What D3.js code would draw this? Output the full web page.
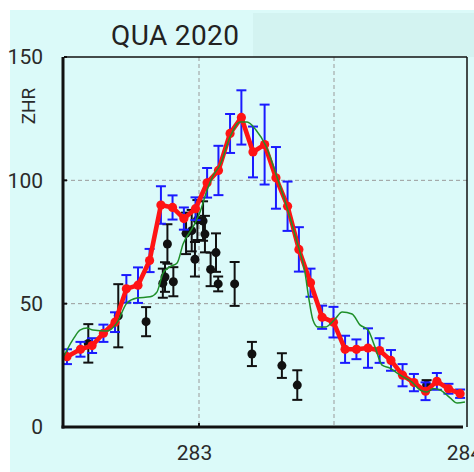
<!DOCTYPE html>
<html>
<head>
<meta charset="utf-8">
<script src="https://cdn.jsdelivr.net/npm/d3@7"></script>
<style>
  html, body { margin: 0; padding: 0; background: #ffffff; }
  svg { display: block; }
  text { font-family: Roboto, "Noto Sans", Arial, sans-serif; }
</style>
</head>
<body>
<script>
// Quadrantids 2020: ZHR against solar longitude

// Main ZHR profile (red, with blue error bars)
const mainLon = [282.511, 282.561, 282.604, 282.646, 282.689, 282.731, 282.774, 282.817, 282.859, 282.902,
                 282.944, 282.987, 283.030, 283.072, 283.115, 283.157, 283.200, 283.243, 283.285, 283.328,
                 283.370, 283.413, 283.456, 283.498, 283.541, 283.583, 283.626, 283.669, 283.711, 283.754,
                 283.796, 283.839, 283.881, 283.924, 283.967];
const mainZhr = [28.5, 31.5, 33, 38, 42.5, 56, 57.5, 67.5, 90, 89,
                 84.5, 88.5, 99, 104, 119, 125.5, 111.5, 114.5, 101, 89.5,
                 72, 58.5, 44.5, 42.5, 31.5, 31.5, 32, 31, 27, 21,
                 18, 14.5, 18.5, 15.5, 13.5];
const mainErr = [3, 3, 3, 3.5, 4, 5.6, 7.2, 4.7, 7.6, 4.9,
                 4.5, 4.6, 6, 10, 7.9, 11, 10.3, 16.2, 12.5, 10,
                 9, 5.7, 4.7, 6.2, 5.5, 4, 8, 5, 4.2, 4.5,
                 3.5, 3.6, 3.4, 2, 1.7];

// Second data set (black points with error bars)
const otherLon = [282.590, 282.701, 282.804, 282.866, 282.874, 282.883, 282.905, 282.952, 282.973, 282.985,
                  282.994, 283.015, 283.022, 283.043, 283.063, 283.071, 283.132, 283.196, 283.307, 283.364,
                  283.843];
const otherZhr = [33.9, 45.1, 42.7, 58.3, 60.8, 74.2, 58.9, 78.5, 79.6, 68,
                  83.9, 83.5, 78.2, 63.9, 70.7, 58, 58, 29.6, 24.9, 17,
                  17];
const otherErr = [7.8, 12.8, 5.9, 5.9, 6, 8, 5.9, 8.4, 8.4, 7,
                  8.1, 8, 7.4, 6.8, 7.8, 3, 8.9, 4.9, 5, 6,
                  2];

// Model curve (green)
const modelLon = [282.500, 282.511, 282.537, 282.559, 282.585, 282.607, 282.659, 282.696, 282.733, 282.770,
                  282.819, 282.844, 282.867, 282.893, 282.919, 282.941, 282.978, 283.004, 283.030, 283.052,
                  283.078, 283.115, 283.152, 283.178, 283.211, 283.248, 283.285, 283.322, 283.363, 283.393,
                  283.406, 283.422, 283.441, 283.467, 283.504, 283.530, 283.567, 283.596, 283.626, 283.652,
                  283.678, 283.707, 283.744, 283.789, 283.819, 283.844, 283.867, 283.893, 283.930, 283.956,
                  283.985];
const modelZhr = [28.8, 31.2, 36.1, 39.3, 40.1, 39.3, 38.9, 42.2, 50.3, 52.3,
                  52.8, 54.7, 62.4, 65, 66.5, 74.2, 81.1, 87.2, 96.1, 101.8,
                  106.2, 117.6, 123.6, 123.6, 120.4, 113.9, 102.6, 90.4, 75, 62.4,
                  52.7, 43.4, 40.5, 40.5, 43.8, 46.6, 45.8, 41.4, 39.3, 32.4,
                  25.1, 23.9, 21.1, 18.2, 15, 14.2, 15.6, 15, 11.8, 9.7,
                  10.1];

const yTicks = [0, 50, 100, 150];
const xTicks = [283, 284];
const yGrid = [50, 100];
const xGrid = [283, 283.5];
const titleText = "QUA 2020";
const yLabel = "ZHR";

const W = 474, H = 472;
const plotL = 64, plotR = 469, plotT = 57, plotB = 427, frameRight = 467;

const svg = d3.select("body").append("svg").attr("width", W).attr("height", H);

// Backgrounds
svg.append("rect").attr("x", 10).attr("y", 10).attr("width", W - 10).attr("height", H - 10).attr("fill", "#dbfaf9");
svg.append("rect").attr("x", 253).attr("y", 13).attr("width", W - 253).attr("height", 44).attr("fill", "#d3f3f1");

const x = d3.scaleLinear().domain([282.5, 284]).range([plotL, plotR]);
const y = d3.scaleLinear().domain([0, 150]).range([plotB, plotT]);

// Title
svg.append("text").attr("x", 111).attr("y", 45).attr("font-size", 28).attr("fill", "#222")
  .attr("textLength", 128).text(titleText);

// Grid
const grid = svg.append("g").attr("stroke", "#9a9a9a").attr("stroke-width", 1).attr("stroke-dasharray", "4,3");
grid.selectAll(".gy").data(yGrid).join("line")
  .attr("x1", plotL).attr("x2", frameRight).attr("y1", d => y(d)).attr("y2", d => y(d));
grid.selectAll(".gx").data(xGrid).join("line")
  .attr("x1", d => x(d)).attr("x2", d => x(d)).attr("y1", plotT).attr("y2", plotB);

// Frame: thin top/right, thick left/bottom
svg.append("line").attr("x1", plotL).attr("x2", frameRight).attr("y1", plotT).attr("y2", plotT).attr("stroke", "#111").attr("stroke-width", 1.5);
svg.append("line").attr("x1", frameRight).attr("x2", frameRight).attr("y1", plotT).attr("y2", plotB).attr("stroke", "#111").attr("stroke-width", 1.5);

// Black data set
const other = otherLon.map((d, i) => ({ lon: d, zhr: otherZhr[i], err: otherErr[i] }));
const gOther = svg.append("g").attr("stroke", "#111").attr("stroke-width", 2);
const cap = 5;
other.forEach(d => {
  const cx = x(d.lon), y1 = y(d.zhr - d.err), y2 = y(d.zhr + d.err);
  gOther.append("line").attr("x1", cx).attr("x2", cx).attr("y1", y1).attr("y2", y2);
  gOther.append("line").attr("x1", cx - cap).attr("x2", cx + cap).attr("y1", y1).attr("y2", y1);
  gOther.append("line").attr("x1", cx - cap).attr("x2", cx + cap).attr("y1", y2).attr("y2", y2);
});
svg.append("g").selectAll("circle").data(other).join("circle")
  .attr("cx", d => x(d.lon)).attr("cy", d => y(d.zhr)).attr("r", 4.5).attr("fill", "#111");

// Blue error bars of the main profile
const main = mainLon.map((d, i) => ({ lon: d, zhr: mainZhr[i], err: mainErr[i] }));
const gBlue = svg.append("g").attr("stroke", "#1a1aff").attr("stroke-width", 2);
main.forEach(d => {
  const cx = x(d.lon), y1 = y(d.zhr - d.err), y2 = y(d.zhr + d.err);
  gBlue.append("line").attr("x1", cx).attr("x2", cx).attr("y1", y1).attr("y2", y2);
  gBlue.append("line").attr("x1", cx - cap).attr("x2", cx + cap).attr("y1", y1).attr("y2", y1);
  gBlue.append("line").attr("x1", cx - cap).attr("x2", cx + cap).attr("y1", y2).attr("y2", y2);
});

// Red line and points
const line = d3.line().x(d => x(d.lon)).y(d => y(d.zhr));
svg.append("path").datum(main).attr("d", line).attr("fill", "none")
  .attr("stroke", "#ff1414").attr("stroke-width", 4.6).attr("stroke-linejoin", "round").attr("stroke-linecap", "round");
svg.append("g").selectAll("circle").data(main).join("circle")
  .attr("cx", d => x(d.lon)).attr("cy", d => y(d.zhr)).attr("r", 4.6).attr("fill", "#ff1414");

// Green model curve
const model = modelLon.map((d, i) => ({ lon: d, zhr: modelZhr[i] }));
const smooth = d3.line().x(d => x(d.lon)).y(d => y(d.zhr)).curve(d3.curveMonotoneX);
svg.append("path").datum(model).attr("d", smooth).attr("fill", "none")
  .attr("stroke", "#1f8f2a").attr("stroke-width", 1.5);

// Thick left and bottom axis lines
svg.append("line").attr("x1", plotL - 1).attr("x2", plotL - 1).attr("y1", plotT).attr("y2", plotB + 1.5).attr("stroke", "#111").attr("stroke-width", 3);
svg.append("line").attr("x1", plotL - 2.5).attr("x2", 463).attr("y1", plotB).attr("y2", plotB).attr("stroke", "#111").attr("stroke-width", 3);

// Axes (labels)
const yAxis = svg.append("g").attr("transform", `translate(${plotL},0)`)
  .call(d3.axisLeft(y).tickValues(yTicks).tickSize(0).tickPadding(21).tickFormat(d3.format("d")));
yAxis.select(".domain").remove();
yAxis.selectAll("text").attr("font-size", 21).attr("fill", "#2a2a2a").attr("font-family", "Roboto, sans-serif");
// small inward tick marks
svg.append("g").selectAll("line").data(yTicks.slice(1)).join("line")
  .attr("x1", plotL).attr("x2", plotL + 3).attr("y1", d => y(d)).attr("y2", d => y(d))
  .attr("stroke", "#111").attr("stroke-width", 2);

const xAxis = svg.append("g").attr("transform", `translate(0,${plotB})`)
  .call(d3.axisBottom(x).tickValues(xTicks).tickSize(0).tickPadding(18).tickFormat(d3.format("d")));
xAxis.select(".domain").remove();
xAxis.selectAll("text").attr("font-size", 21).attr("fill", "#2a2a2a").attr("dx", -5).attr("font-family", "Roboto, sans-serif");
svg.append("g").selectAll("line").data(xTicks.slice(0, 1)).join("line")
  .attr("x1", d => x(d)).attr("x2", d => x(d)).attr("y1", plotB).attr("y2", plotB - 4)
  .attr("stroke", "#111").attr("stroke-width", 2);

// Y axis title
svg.append("text").attr("transform", "translate(35,106) rotate(-90)").attr("text-anchor", "middle")
  .attr("font-size", 19).attr("fill", "#2a2a2a").text(yLabel);
</script>
</body>
</html>
